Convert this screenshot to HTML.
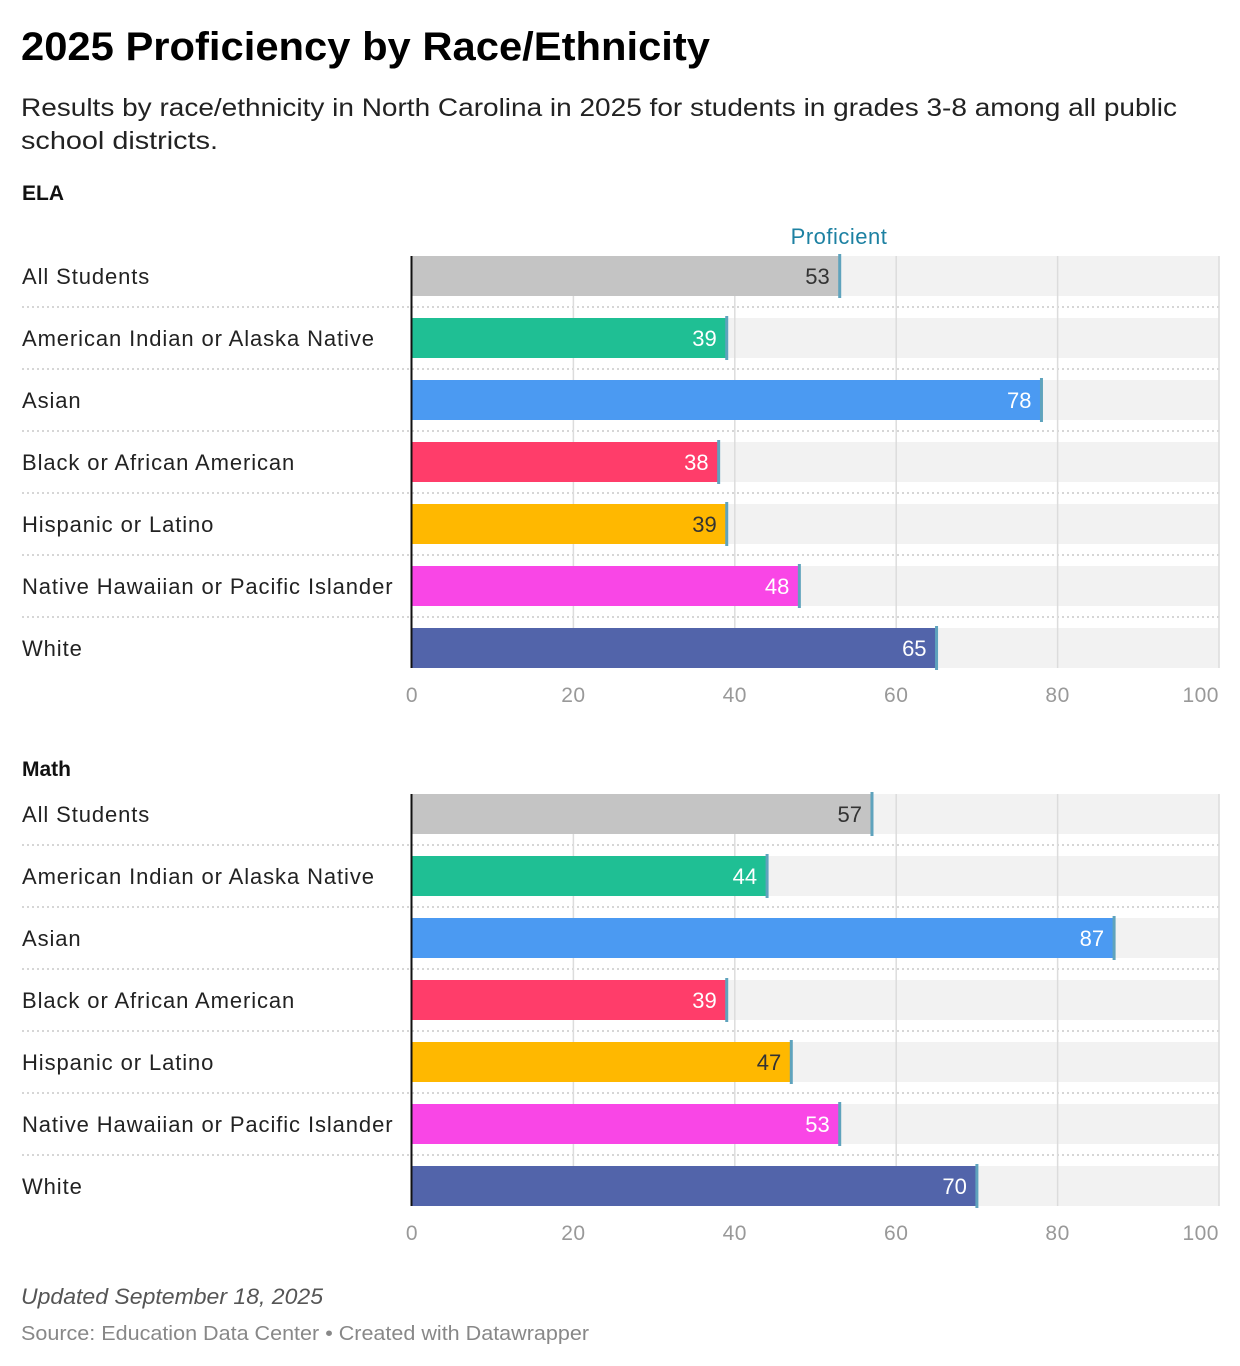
<!DOCTYPE html>
<html><head><meta charset="utf-8">
<style>
body{margin:0;background:#fff;}
svg{display:block;font-family:"Liberation Sans",sans-serif;}
</style></head>
<body>
<svg id="chart" width="1240" height="1366" viewBox="0 0 1240 1366" xmlns="http://www.w3.org/2000/svg">
<rect width="1240" height="1366" fill="#fff"/>
<text x="21" y="60" font-size="40" font-weight="bold" fill="#000" textLength="689" lengthAdjust="spacingAndGlyphs">2025 Proficiency by Race/Ethnicity</text>
<text x="21" y="116" font-size="25" fill="#222" textLength="1156" lengthAdjust="spacingAndGlyphs">Results by race/ethnicity in North Carolina in 2025 for students in grades 3-8 among all public</text>
<text x="21" y="149" font-size="25" fill="#222" textLength="197" lengthAdjust="spacingAndGlyphs">school districts.</text>
<text x="22" y="200" font-size="21" font-weight="bold" fill="#111">ELA</text>
<text x="22" y="776" font-size="21" font-weight="bold" fill="#111">Math</text>
<text x="839" y="244" font-size="22" fill="#1d81a2" text-anchor="middle" letter-spacing="0.5">Proficient</text>
<text x="21" y="1304" font-size="22" font-style="italic" fill="#555" textLength="302" lengthAdjust="spacingAndGlyphs">Updated September 18, 2025</text>
<text x="21" y="1340" font-size="20" fill="#888" textLength="568" lengthAdjust="spacingAndGlyphs">Source: Education Data Center • Created with Datawrapper</text>
<g id="plots"></g>
</svg>
<script>
const categories = ["All Students","American Indian or Alaska Native","Asian","Black or African American","Hispanic or Latino","Native Hawaiian or Pacific Islander","White"];
const elaValues = [53,39,78,38,39,48,65];
const mathValues = [57,44,87,39,47,53,70];
const ticks = [0,20,40,60,80,100];
const colors = ["#c4c4c4","#1fbf94","#4b9af2","#ff3d6a","#ffb800","#f946e6","#5264aa"];
const darkText = [true,false,false,false,true,false,false];

const NS = "http://www.w3.org/2000/svg";
const X0 = 412, X1 = 1219;
const xs = v => X0 + (X1 - X0) * v / 100;
const plots = document.getElementById('plots');
function mk(tag, attrs, parent){
  const e = document.createElementNS(NS, tag);
  for (const k in attrs) e.setAttribute(k, attrs[k]);
  (parent || plots).appendChild(e);
  return e;
}
function panel(name, values, top){
  const g = mk('g', {});
  
  
  const step = 62, bh = 40;
  const yb = i => top + i * step;
  categories.forEach((c, i) => {
    const t = mk('rect', {x: X0, y: yb(i), width: X1 - X0, height: bh, fill: '#f2f2f2'}, g);
    
    
    if (i < categories.length - 1) {
      const s = mk('line', {x1: 22, x2: X1, y1: yb(i) + 51, y2: yb(i) + 51, stroke: '#d6d6d6', 'stroke-width': 2, 'stroke-dasharray': '2 3'}, g);
      
      
    }
  });
  ticks.forEach(t => {
    if (t === 0) return;
    const l = mk('line', {x1: xs(t), x2: xs(t), y1: top, y2: yb(categories.length - 1) + bh, stroke: '#dcdcdc', 'stroke-width': 1.5}, g);
    
    
  });
  ticks.forEach(t => {
    const tx = mk('text', {x: xs(t), y: yb(categories.length - 1) + bh + 34, 'font-size': 21, fill: '#999', 'text-anchor': t === 100 ? 'end' : 'middle', 'letter-spacing': 0.5}, g);
    tx.textContent = t;
    
    
  });
  categories.forEach((c, i) => {
    const lab = mk('text', {x: 22, y: yb(i) + 28, 'font-size': 22, fill: '#222', 'letter-spacing': 0.9}, g);
    lab.textContent = c;
    
    
    const b = mk('rect', {x: X0, y: yb(i), width: xs(values[i]) - X0, height: bh, fill: colors[i]}, g);
    
    
    const m = mk('rect', {x: xs(values[i]) - 1.5, y: yb(i) - 2, width: 3, height: bh + 4, fill: '#5fa3bd'}, g);
    
    
    const v = mk('text', {x: xs(values[i]) - 10, y: yb(i) + 28, 'font-size': 22, fill: darkText[i] ? '#333' : '#fff', 'text-anchor': 'end'}, g);
    v.textContent = values[i];
    
    
  });
  const ax = mk('line', {x1: X0 - 0.5, x2: X0 - 0.5, y1: top, y2: yb(categories.length - 1) + bh, stroke: '#111', 'stroke-width': 2}, g);
  
  
}
panel('ela', elaValues, 256);
panel('math', mathValues, 794);
</script>
</body></html>
